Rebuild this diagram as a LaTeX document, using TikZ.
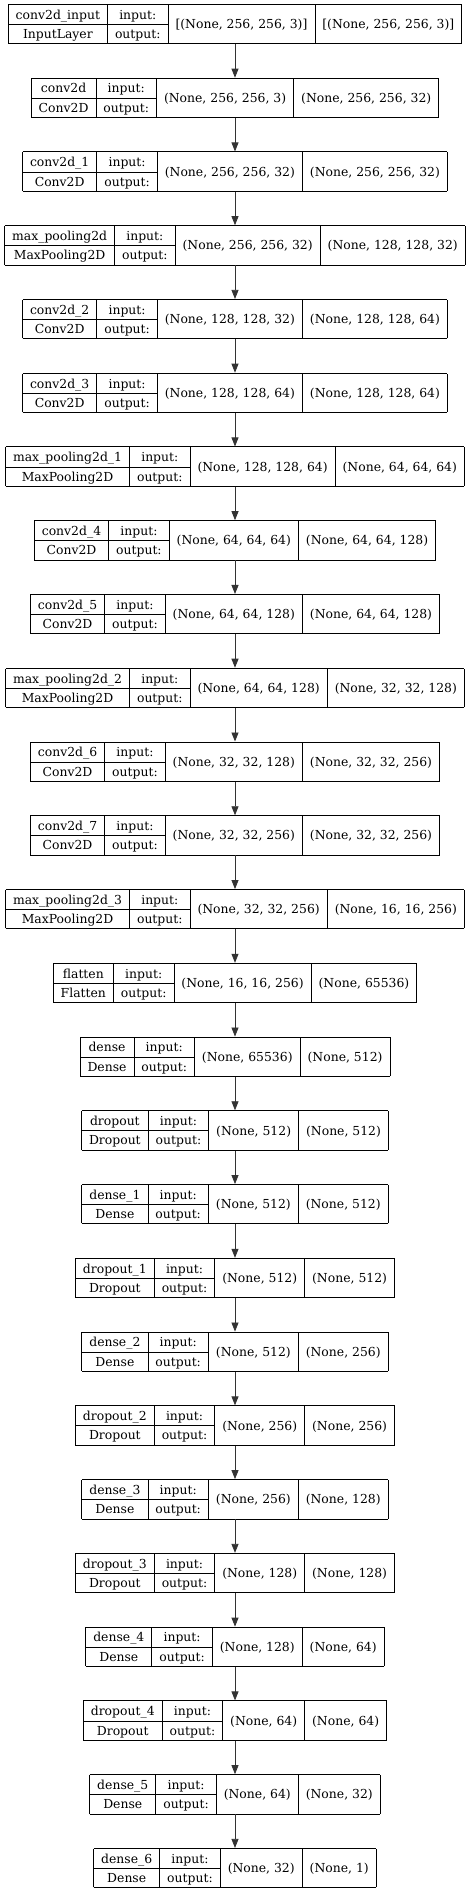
\documentclass[tikz,border=0pt]{standalone}
\usepackage{fontspec}
\setmainfont{DejaVu Serif}
\usetikzlibrary{arrows.meta}
\setlength\tabcolsep{7.5pt}
\setlength\arrayrulewidth{0.8pt}
\renewcommand\arraystretch{0.3}
\newcommand\rs{\rule[-4.8pt]{0pt}{19.3pt}}
\newcommand\sh[1]{\raisebox{9.9pt}[0pt][0pt]{#1}}
\newcommand\layer[5]{%
  \node[layerbox] (L#1) at (235pt,{-24pt-#1*73.76pt}) {%
    \begin{tabular}{|c|c|c|c|}\hline
      \rs #2 & \rs input: & & \\ \cline{1-2}
      \rs #3 & \rs output: & \sh{#4} & \sh{#5} \\ \hline
    \end{tabular}};}
\tikzset{
  layerbox/.style={inner sep=0pt, outer sep=0pt},
  arr/.style={draw=black!80, line width=0.8pt, -{Triangle[length=9pt,width=7pt]}}
}
\begin{document}
\begin{tikzpicture}[font=\fontsize{12.4pt}{14pt}\selectfont]
\fill[white] (0,0) rectangle (470pt,-1893pt);
\useasboundingbox (0,0) rectangle (470pt,-1893pt);
\layer{0}{conv2d\_input}{InputLayer}{[(None, 256, 256, 3)]}{[(None, 256, 256, 3)]}
\layer{1}{conv2d}{Conv2D}{(None, 256, 256, 3)}{(None, 256, 256, 32)}
\layer{2}{conv2d\_1}{Conv2D}{(None, 256, 256, 32)}{(None, 256, 256, 32)}
\layer{3}{max\_pooling2d}{MaxPooling2D}{(None, 256, 256, 32)}{(None, 128, 128, 32)}
\layer{4}{conv2d\_2}{Conv2D}{(None, 128, 128, 32)}{(None, 128, 128, 64)}
\layer{5}{conv2d\_3}{Conv2D}{(None, 128, 128, 64)}{(None, 128, 128, 64)}
\layer{6}{max\_pooling2d\_1}{MaxPooling2D}{(None, 128, 128, 64)}{(None, 64, 64, 64)}
\layer{7}{conv2d\_4}{Conv2D}{(None, 64, 64, 64)}{(None, 64, 64, 128)}
\layer{8}{conv2d\_5}{Conv2D}{(None, 64, 64, 128)}{(None, 64, 64, 128)}
\layer{9}{max\_pooling2d\_2}{MaxPooling2D}{(None, 64, 64, 128)}{(None, 32, 32, 128)}
\layer{10}{conv2d\_6}{Conv2D}{(None, 32, 32, 128)}{(None, 32, 32, 256)}
\layer{11}{conv2d\_7}{Conv2D}{(None, 32, 32, 256)}{(None, 32, 32, 256)}
\layer{12}{max\_pooling2d\_3}{MaxPooling2D}{(None, 32, 32, 256)}{(None, 16, 16, 256)}
\layer{13}{flatten}{Flatten}{(None, 16, 16, 256)}{(None, 65536)}
\layer{14}{dense}{Dense}{(None, 65536)}{(None, 512)}
\layer{15}{dropout}{Dropout}{(None, 512)}{(None, 512)}
\layer{16}{dense\_1}{Dense}{(None, 512)}{(None, 512)}
\layer{17}{dropout\_1}{Dropout}{(None, 512)}{(None, 512)}
\layer{18}{dense\_2}{Dense}{(None, 512)}{(None, 256)}
\layer{19}{dropout\_2}{Dropout}{(None, 256)}{(None, 256)}
\layer{20}{dense\_3}{Dense}{(None, 256)}{(None, 128)}
\layer{21}{dropout\_3}{Dropout}{(None, 128)}{(None, 128)}
\layer{22}{dense\_4}{Dense}{(None, 128)}{(None, 64)}
\layer{23}{dropout\_4}{Dropout}{(None, 64)}{(None, 64)}
\layer{24}{dense\_5}{Dense}{(None, 64)}{(None, 32)}
\layer{25}{dense\_6}{Dense}{(None, 32)}{(None, 1)}
\foreach \i [evaluate=\i as \j using int(\i+1)] in {0,...,24}
  \draw[arr] (L\i.south) -- (L\j.north);
\end{tikzpicture}
\end{document}
